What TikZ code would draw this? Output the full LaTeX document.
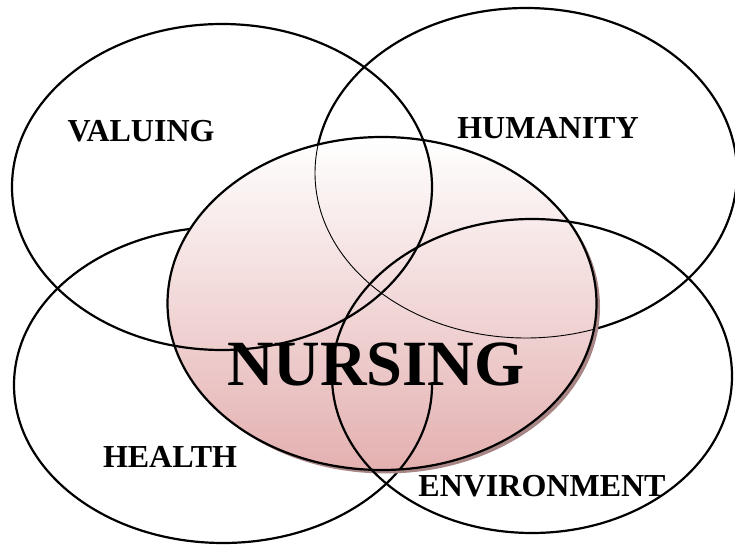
\documentclass[tikz,border=0pt]{standalone}
\usepackage{fontspec}
\setmainfont{Liberation Serif}
\usetikzlibrary{shapes.geometric}
\definecolor{pinkbot}{RGB}{228,176,176}
\definecolor{shadowc}{RGB}{168,134,134}
\tikzset{
  ring/.style={draw=black, line width=2.2pt},
  thinring/.style={draw=black, line width=0.9pt},
  lbl/.style={font=\bfseries\fontsize{32}{38}\selectfont, inner sep=0pt},
  biglbl/.style={font=\bfseries\fontsize{64.5}{70}\selectfont, inner sep=0pt}
}
\begin{document}
\begin{tikzpicture}[x=1pt,y=1pt]
\useasboundingbox (0,0) rectangle (735,546);
% back rings
\draw[ring] (526,373) ellipse [x radius=211, y radius=165];
\draw[ring] (223,161) ellipse [x radius=209, y radius=158];
% nursing shadow and body
\fill[shadowc] (385.5,239) ellipse [x radius=214.5, y radius=166.5];
\shade[top color=white, bottom color=pinkbot] (382,242.5) ellipse [x radius=214.5, y radius=166.5];
% rings seen through nursing
\begin{scope}
  \clip (382,242.5) ellipse [x radius=214.5, y radius=166.5];
  \draw[thinring] (526,373) ellipse [x radius=211, y radius=165];
  \clip (0,0) rectangle (735,161);
  \draw[ring] (223,161) ellipse [x radius=209, y radius=158];
\end{scope}
\draw[ring] (382,242.5) ellipse [x radius=214.5, y radius=166.5];
% front rings
\draw[ring] (222,359) ellipse [x radius=210, y radius=163];
\draw[ring] (532,170) ellipse [x radius=200, y radius=157];
% labels
\node[lbl] (valuing) at (141,415) {VALUING};
\node[lbl] (humanity) at (548,418) {HUMANITY};
\node[lbl] (health) at (170,89) {HEALTH};
\node[lbl] (environment) at (542,60) {ENVIRONMENT};
\node[biglbl] (nursing) at (376,182) {NURSING};
\end{tikzpicture}
\end{document}
